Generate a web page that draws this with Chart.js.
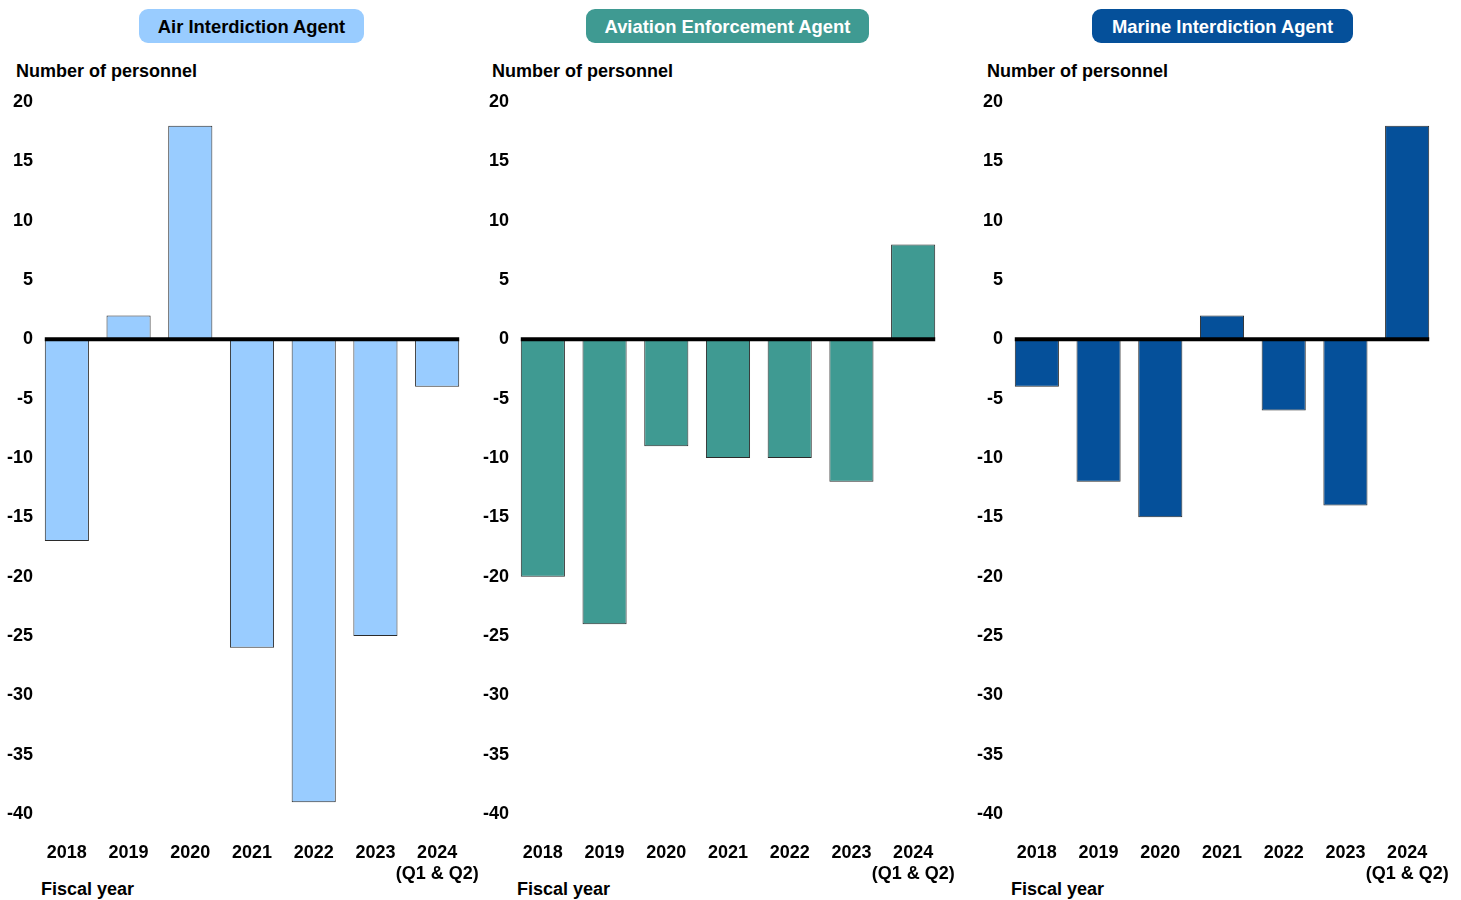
<!DOCTYPE html>
<html><head><meta charset="utf-8">
<script src="https://cdn.jsdelivr.net/npm/chart.js@4.4.1/dist/chart.umd.min.js"></script>
<style>
body{margin:0;background:#fff;font-family:"Liberation Sans",Arial,sans-serif;}
#wrap{position:relative;width:1461px;height:900px;overflow:hidden;background:#fff;}
.pill{position:absolute;top:9px;height:34px;border-radius:9px;font-weight:bold;font-size:18.4px;display:flex;align-items:center;justify-content:center;padding-top:1px;box-sizing:border-box;}
.ylab{position:absolute;top:60px;font-weight:bold;font-size:18px;line-height:22px;color:#000;white-space:nowrap;}
.xlab{position:absolute;top:878px;font-weight:bold;font-size:18px;line-height:22px;color:#000;white-space:nowrap;}
canvas{position:absolute;top:0;}
</style></head>
<body>
<div id="wrap">
  <div class="pill" style="left:139px;width:225px;background:#99CCFF;color:#000;">Air Interdiction Agent</div>
  <div class="pill" style="left:586px;width:283px;background:#3F9A92;color:#fff;">Aviation Enforcement Agent</div>
  <div class="pill" style="left:1092px;width:261px;background:#05509A;color:#fff;">Marine Interdiction Agent</div>
  <div class="ylab" style="left:16px;">Number of personnel</div>
  <div class="ylab" style="left:492px;">Number of personnel</div>
  <div class="ylab" style="left:987px;">Number of personnel</div>
  <div class="xlab" style="left:41px;">Fiscal year</div>
  <div class="xlab" style="left:517px;">Fiscal year</div>
  <div class="xlab" style="left:1011px;">Fiscal year</div>
  <canvas id="c1" width="480" height="900" style="left:0px"></canvas>
  <canvas id="c2" width="480" height="900" style="left:476px"></canvas>
  <canvas id="c3" width="480" height="900" style="left:970px"></canvas>
</div>
<script>
const categories = ['2018','2019','2020','2021','2022','2023',['2024','(Q1 & Q2)']];
const airValues = [-17, 2, 18, -26, -39, -25, -4];
const aviationValues = [-20, -24, -9, -10, -10, -12, 8];
const marineValues = [-4, -12, -15, 2, -6, -14, 18];
const yMin = -40, yMax = 20, yStep = 5;

const FONT = '"Liberation Sans", Arial, sans-serif';

const zeroLine = {
  id: 'zeroLine',
  afterDatasetsDraw(chart) {
    const meta = chart.getDatasetMeta(0);
    const first = meta.data[0], last = meta.data[meta.data.length - 1];
    const y = chart.scales.y.getPixelForValue(0);
    const ctx = chart.ctx;
    ctx.save();
    ctx.strokeStyle = '#000';
    ctx.lineWidth = 4;
    ctx.beginPath();
    ctx.moveTo(first.x - first.width / 2, y);
    ctx.lineTo(last.x + last.width / 2, y);
    ctx.stroke();
    ctx.restore();
  }
};

function makeChart(id, values, color) {
  new Chart(document.getElementById(id), {
    type: 'bar',
    data: {
      labels: categories,
      datasets: [{
        data: values,
        backgroundColor: color,
        borderColor: '#2b2b2b',
        borderWidth: 1,
        borderSkipped: false,
        barPercentage: 0.715,
        categoryPercentage: 1
      }]
    },
    options: {
      responsive: false,
      animation: false,
      layout: { padding: { left: 0, right: 12, top: 102, bottom: 0 } },
      plugins: { legend: { display: false }, tooltip: { enabled: false }, title: { display: false } },
      scales: {
        x: {
          offset: true,
          grid: { display: false, drawTicks: false },
          border: { display: false },
          ticks: { color: '#000', font: { family: FONT, size: 18, weight: 'bold' }, padding: 28, maxRotation: 0, autoSkip: false, lineHeight: 1.15 },
          afterFit(scale) { scale.height = 86; scale.paddingLeft = 0; scale.paddingRight = 0; }
        },
        y: {
          min: yMin, max: yMax,
          grid: { display: false, drawTicks: false },
          border: { display: false },
          ticks: { stepSize: yStep, color: '#000', font: { family: FONT, size: 18, weight: 'bold' }, padding: 3 },
          afterFit(scale) { scale.width = 36; }
        }
      }
    },
    plugins: [zeroLine]
  });
}

makeChart('c1', airValues, '#99CCFF');
makeChart('c2', aviationValues, '#3F9A92');
makeChart('c3', marineValues, '#05509A');
</script>
</body></html>
